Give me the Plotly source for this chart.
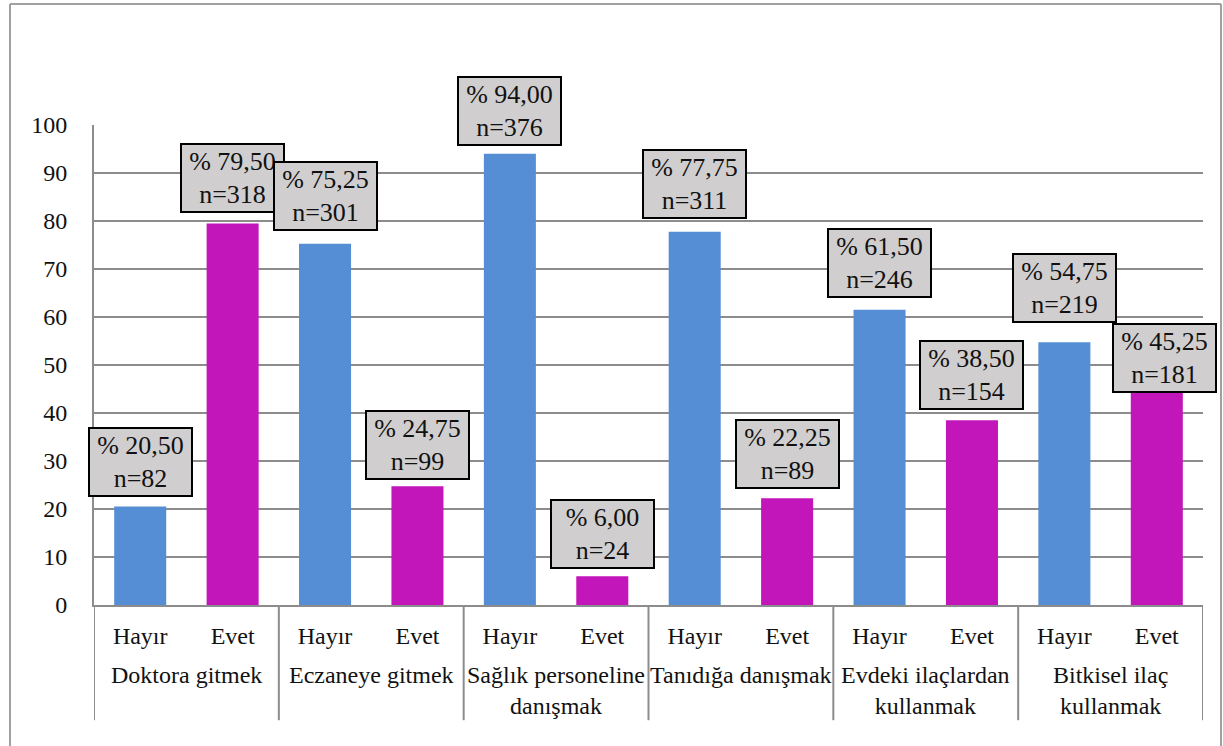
import plotly.graph_objects as go

groups = ["Doktora gitmek", "Eczaneye gitmek", "Sağlık personeline<br>danışmak",
          "Tanıdığa danışmak", "Evdeki ilaçlardan<br>kullanmak", "Bitkisel ilaç<br>kullanmak"]
answers = ["Hayır", "Evet"]
pct_hayir = [20.50, 75.25, 94.00, 77.75, 61.50, 54.75]
pct_evet = [79.50, 24.75, 6.00, 22.25, 38.50, 45.25]
n_hayir = [82, 301, 376, 311, 246, 219]
n_evet = [318, 99, 24, 89, 154, 181]
y_ticks = [0, 10, 20, 30, 40, 50, 60, 70, 80, 90, 100]

BLUE = "#558ED5"
MAGENTA = "#C215BA"
GRID = "#8C8C8C"
FONT = "Liberation Serif"
TXT = "#111111"

keys_h = [f"{g}|Hayır" for g in groups]
keys_e = [f"{g}|Evet" for g in groups]
cat_order = []
for kh, ke in zip(keys_h, keys_e):
    cat_order += [kh, ke]
tick_text = answers * len(groups)

fig = go.Figure()
fig.add_trace(go.Bar(x=keys_h, y=pct_hayir, marker=dict(color=BLUE, line=dict(width=0)),
                     name="Hayır", hoverinfo="y"))
fig.add_trace(go.Bar(x=keys_e, y=pct_evet, marker=dict(color=MAGENTA, line=dict(width=0)),
                     name="Evet", hoverinfo="y"))

def fmt(v):
    return f"{v:.2f}".replace(".", ",")

# label box nudges (xshift, yshift) in pixels, per group: (Hayır, Evet)
label_nudge = [((0, 10), (0, 10)), ((0, 13), (0, 6)), ((0, 8), (0, 7)),
               ((0, 13), (0, 9)), ((0, 12), (0, 10)), ((0, 19), (8, -5))]

annotations = []
for g, kh, ke, ph, pe, nh, ne, nd in zip(groups, keys_h, keys_e, pct_hayir, pct_evet,
                                         n_hayir, n_evet, label_nudge):
    for key, p, n, (xs, ys) in [(kh, ph, nh, nd[0]), (ke, pe, ne, nd[1])]:
        annotations.append(dict(
            x=key, y=p, xref="x", yref="y", text=f"% {fmt(p)}<br>n={n}",
            showarrow=False, yanchor="bottom", xanchor="center", xshift=xs, yshift=ys,
            font=dict(family=FONT, size=26, color=TXT),
            bgcolor="#D0CECE", bordercolor="#000000", borderwidth=2, borderpad=2,
            width=97, height=62, align="center", valign="middle"))

# group labels
for i, g in enumerate(groups):
    annotations.append(dict(
        x=2 * i + 0.5, y=-0.115, xref="x", yref="paper", text=g, showarrow=False,
        yanchor="top", xanchor="center", font=dict(family=FONT, size=24, color=TXT),
        align="center"))

shapes = []
for i in range(len(groups) + 1):
    shapes.append(dict(type="line", xref="x", yref="paper", x0=2 * i - 0.5, x1=2 * i - 0.5,
                       y0=0, y1=-0.24, line=dict(color=GRID, width=2)))

# outer chart frame
L, R = (10 - 94) / 1109, (1221 - 94) / 1109
T, B = (605 - 4) / 480, (605 - 760) / 480
for (x0, y0, x1, y1) in [(L, B, L, T), (L, T, R, T), (R, T, R, B)]:
    shapes.append(dict(type="line", xref="paper", yref="paper", x0=x0, y0=y0, x1=x1, y1=y1,
                       line=dict(color="#A0A0A0", width=2)))

fig.update_layout(
    width=1223, height=746,
    margin=dict(l=94, r=20, t=125, b=141),
    paper_bgcolor="white", plot_bgcolor="white",
    barmode="overlay", bargap=0.437,
    showlegend=False,
    font=dict(family=FONT, color=TXT),
    annotations=annotations, shapes=shapes,
    xaxis=dict(type="category", categoryorder="array", categoryarray=cat_order,
               tickmode="array", tickvals=cat_order, ticktext=tick_text,
               tickfont=dict(family=FONT, size=24, color=TXT), ticks="",
               showline=True, linecolor=GRID, linewidth=2, showgrid=False,
               ticklabelstandoff=8, range=[-0.5, 11.5]),
    yaxis=dict(range=[0, 100], tickmode="array", tickvals=y_ticks,
               tickfont=dict(family=FONT, size=24, color=TXT), ticks="",
               showline=True, linecolor=GRID, linewidth=2,
               showgrid=True, gridcolor=GRID, gridwidth=2, zeroline=False,
               ticklabelstandoff=20),
)

fig.write_html("out.html")
